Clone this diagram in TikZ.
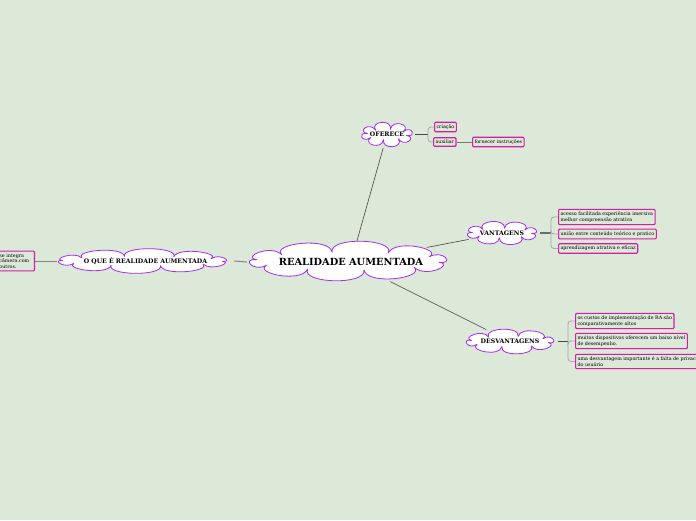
\documentclass[tikz,border=0pt]{standalone}
\usepackage{fontspec}
\setmainfont{DejaVu Serif}
\usetikzlibrary{shapes.geometric}
\definecolor{bg}{RGB}{220,232,216}
\definecolor{cloudline}{RGB}{165,45,235}
\definecolor{boxline}{RGB}{212,30,170}
\definecolor{linkc}{RGB}{70,70,70}
\definecolor{brackc}{RGB}{165,168,165}
% cloud outline: centre x, centre y, half width, half height, puffs, bulge, start angle
\newcommand\mycloud[7]{%
  \pgfmathsetmacro\cldA{#3-0.75*#6}%
  \pgfmathsetmacro\cldB{#4-0.75*#6}%
  \pgfmathsetmacro\cldAA{#3+0.25*#6}%
  \pgfmathsetmacro\cldBB{#4+0.25*#6}%
  \draw[cloudshape] ({#1+\cldA*cos(#7)},{#2+\cldB*sin(#7)})
    \foreach \k in {1,...,#5}{
      .. controls ({#1+\cldAA*cos(#7+(\k-1)*360/#5)},{#2+\cldBB*sin(#7+(\k-1)*360/#5)})
      and ({#1+\cldAA*cos(#7+\k*360/#5)},{#2+\cldBB*sin(#7+\k*360/#5)})
      .. ({#1+\cldA*cos(#7+\k*360/#5)},{#2+\cldB*sin(#7+\k*360/#5)})
    } -- cycle;}
\begin{document}
\begin{tikzpicture}[x=1pt,y=-1pt,
  cloudshape/.style={draw=cloudline, fill=white, line width=0.8pt, line join=round},
  cloudtext/.style={ellipse, inner sep=0pt},
  infobox/.style={draw=boxline, line width=1.1pt, rounded corners=1pt, fill=bg, inner xsep=2pt, inner ysep=2.4pt, align=left, anchor=west, font=\fontsize{4.8}{5.6}\selectfont},
  link/.style={draw=linkc, line width=0.6pt},
  softlink/.style={draw=brackc!80!black, line width=1pt},
  bracket/.style={draw=brackc, line width=0.8pt, rounded corners=3pt}]
\clip (0,0) rectangle (696,520);
\fill[bg] (0,0) rectangle (696,520);

% cloud outlines
\mycloud{348}{261}{104}{21}{10}{16}{8}
\mycloud{387}{134.5}{28}{13.5}{8}{11}{10}
\mycloud{502}{233}{38}{13}{8}{11}{5}
\mycloud{510}{341.5}{47.5}{13.5}{8}{11}{12}
\mycloud{142.5}{261}{88.5}{13}{10}{11}{5}

% cloud labels
\node[cloudtext, minimum width=208pt, minimum height=42pt, font=\fontsize{9.8}{11}\bfseries\selectfont] (central) at (351,262) {REALIDADE AUMENTADA};
\node[cloudtext, minimum width=56pt, minimum height=27pt, font=\fontsize{6.2}{8}\bfseries\selectfont] (oferece) at (387,134.5) {OFERECE};
\node[cloudtext, minimum width=76pt, minimum height=26pt, font=\fontsize{6.2}{8}\bfseries\selectfont] (vant) at (502,233) {VANTAGENS};
\node[cloudtext, minimum width=95pt, minimum height=27pt, font=\fontsize{6.2}{8}\bfseries\selectfont] (desv) at (510,341.5) {DESVANTAGENS};
\node[cloudtext, minimum width=177pt, minimum height=26pt, font=\fontsize{6.2}{8}\bfseries\selectfont] (oque) at (145.5,261) {O QUE É REALIDADE AUMENTADA};

% left box (cut off)
\node[infobox, anchor=east, text width=33pt, inner xsep=2pt, inner ysep=2.5pt] (leftbox) at (35,261) {se integra\\câmera.com\\outros.};

% oferece children
\node[infobox] (criacao) at (434,127) {criação};
\node[infobox] (auxiliar) at (433,142) {auxiliar};
\node[infobox] (fornecer) at (472,142) {fornecer instruções};

% vantagens children
\node[infobox] (v1) at (558,217) {acesso facilitada experiência imersiva\\melhor compreensão atrativa};
\node[infobox] (v2) at (558,234) {união entre conteúdo teórico e pratico};
\node[infobox] (v3) at (558,248.5) {aprendizagem atrativa e eficaz};

% desvantagens children
\node[infobox] (d1) at (575,321) {os custos de implementação de RA são\\comparativamente altos};
\node[infobox] (d2) at (575,341) {muitos dispositivos oferecem um baixo nível\\de desempenho.};
\node[infobox] (d3) at (575,361.5) {uma desvantagem importante é a falta de privacidade\\do usuário};

% main connectors
\draw[link] (central) -- (oferece);
\draw[link] (central) -- (vant);
\draw[link] (central) -- (desv);
\draw[softlink] (central.west) -- (oque.east);
\draw[softlink] (oque.west) -- (leftbox.east);

% oferece bracket
\coordinate (ob) at (428,134.5);
\draw[link, line width=0.9pt] (oferece.east) -- (ob);
\draw[bracket] (criacao.west) -| (ob) |- (auxiliar.west);
\draw[link, draw=brackc!70!black] (auxiliar.east) -- (fornecer.west);

% vantagens bracket
\coordinate (vb) at (551,233);
\draw[link, line width=1.2pt, draw=linkc!80] (vant.east) -- (vb);
\draw[bracket] (v1.west) -| (vb) |- (v3.west);
\draw[bracket] (vb) |- (v2.west);

% desvantagens bracket
\coordinate (db) at (568,341.5);
\draw[link] (desv.east) -- (db);
\draw[bracket] (d1.west) -| (db) |- (d3.west);
\draw[bracket] (db) |- (d2.west);
\end{tikzpicture}
\end{document}
